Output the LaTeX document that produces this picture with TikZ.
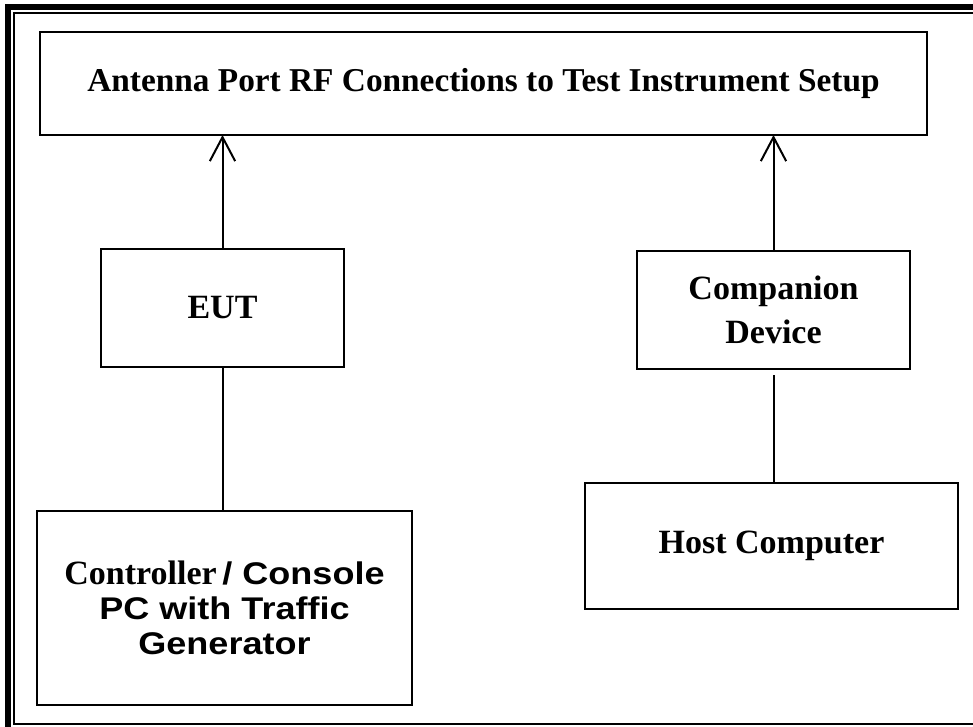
\documentclass[tikz,border=0pt]{standalone}
\usepackage{fontspec}
\setmainfont{Liberation Serif}
\newfontfamily\arialfont{Liberation Sans}
\usetikzlibrary{arrows.meta}
\newcommand{\arialwide}[1]{\scalebox{1.15}[1]{\arialfont\fontsize{23.5pt}{26.5pt}\selectfont #1}}
\begin{document}
\begin{tikzpicture}[x=0.75pt,y=-0.75pt,
  blk/.style={draw=black,line width=1.6pt,inner sep=0pt,outer sep=0pt,align=center,font=\bfseries\fontsize{25.5pt}{33pt}\selectfont},
  conn/.style={line width=1.5pt},
  arr/.style={conn,-{Straight Barb[length=18pt,width=19pt,line width=1.5pt]}}]
\useasboundingbox (0,0) rectangle (973,727);
\clip (0,0) rectangle (973,727);
% frame
\draw[line width=4.5pt] (8,7.5) rectangle (1000,735);
\draw[line width=1.3pt] (14,13) rectangle (990,724);
% nodes
\node[blk,minimum width=887*0.75pt,minimum height=103*0.75pt,font=\bfseries\fontsize{25pt}{30pt}\selectfont] (top) at (483.5,83.5) {\raisebox{-3pt}{Antenna Port RF Connections to Test Instrument Setup}};
\node[blk,minimum width=243*0.75pt,minimum height=118*0.75pt] (eut) at (222.5,308) {EUT};
\node[blk,minimum width=273*0.75pt,minimum height=118*0.75pt] (comp) at (773.5,310) {Companion\\Device};
\node[blk,minimum width=375*0.75pt,minimum height=194*0.75pt,font=\bfseries\fontsize{25.5pt}{26.5pt}\selectfont] (ctrl) at (224.5,608) {Controller\,\arialwide{/ Console}\\\arialwide{PC with Traffic}\\\arialwide{Generator}};
\node[blk,minimum width=373*0.75pt,minimum height=126*0.75pt] (host) at (771.5,546) {Host Computer};
% connectors
\draw[arr] (eut.north) -- (eut.north |- top.south);
\draw[arr] (comp.north) -- (comp.north |- top.south);
\draw[conn] (eut.south) -- (eut.south |- ctrl.north);
\draw[conn,shorten <=4.5pt] (comp.south) -- (comp.south |- host.north);
\end{tikzpicture}
\end{document}
